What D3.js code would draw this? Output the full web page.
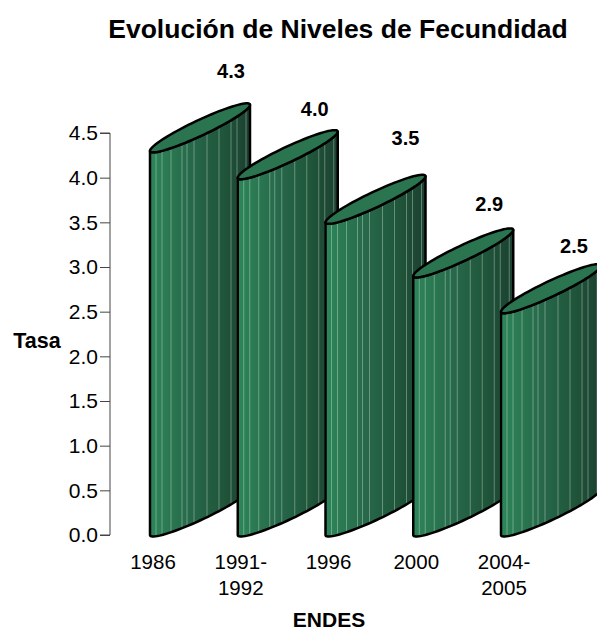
<!DOCTYPE html>
<html>
<head>
<meta charset="utf-8">
<script src="https://cdn.jsdelivr.net/npm/d3@7"></script>
<style>
body { margin: 0; background: #fff; }
text { font-family: "Liberation Sans", Arial, sans-serif; fill: #000; }
</style>
</head>
<body>
<svg id="chart" width="597" height="632"></svg>
<script>
var categories = [["1986"], ["1991-", "1992"], ["1996"], ["2000"], ["2004-", "2005"]];
var values = [4.3, 4.0, 3.5, 2.9, 2.5];
var tickValues = [0, 0.5, 1, 1.5, 2, 2.5, 3, 3.5, 4, 4.5];
// value labels float at uneven places in the original
var labelLift = [27, 16, 31, 19, 13];
var labelShift = [81, 77, 80, 76, 73];

var svg = d3.select("#chart");
var defs = svg.append("defs");

var barWidth = 100, skew = 46, bulge = 8.5;

var x = d3.scalePoint().domain(d3.range(categories.length)).range([150, 501]);
var y = d3.scaleLinear().domain([0, 4.5]).range([535, 133]);

var grad = defs.append("linearGradient").attr("id", "bodyFill");
grad.append("stop").attr("offset", "0%").attr("stop-color", "#2d8659");
grad.append("stop").attr("offset", "40%").attr("stop-color", "#27694a");
grad.append("stop").attr("offset", "75%").attr("stop-color", "#1f5439");
grad.append("stop").attr("offset", "100%").attr("stop-color", "#1b4030");

// point on the sheared ellipse of a bar; u = -1 is the left tip, u = 1 the right tip
function rimY(yLeft, u, side){
	return yLeft - skew/2 - u*skew/2 + side*bulge*Math.sqrt(1 - u*u);
}

var line = d3.line();
var samples = d3.range(0, 41).map(function(i){ return -Math.cos(Math.PI*i/40); });

function rim(x0, yLeft, side){
	return samples.map(function(u){
		return [x0 + barWidth/2 + u*barWidth/2, rimY(yLeft, u, side)];
	});
}

// stripe offsets bunch up towards the right edge, like facets of a cylinder
var stripes = [6, 12, 21, 32, 37, 44, 57, 69, 81, 87, 96];

// axis
var axis = d3.axisLeft(y).tickValues(tickValues).tickSize(10).tickPadding(2)
	.tickFormat(d3.format(".1f"));
var axisG = svg.append("g").attr("transform", "translate(110,0)").call(axis);
axisG.selectAll("path, line").attr("stroke", "#444").attr("stroke-width", 1);
axisG.select("path").attr("d", "M-10," + y(4.5) + "H0V" + y(0) + "H-10");
axisG.selectAll("text").style("font-size", "21px")
	.style("font-family", '"Liberation Sans", Arial, sans-serif').attr("fill", "#000");

// bars, left to right so that each overlaps the previous one
var bars = svg.selectAll("g.bar").data(values).enter().append("g").attr("class", "bar");

bars.each(function(d, i){
	var g = d3.select(this);
	var x0 = x(i), top = y(d), base = y(0);
	var front = rim(x0, top, 1), bottom = rim(x0, base, 1).reverse();

	g.append("path")
		.attr("d", line(front.concat(bottom)) + "Z")
		.attr("fill", "url(#bodyFill)");

	g.selectAll("line.stripe").data(stripes).enter().append("line")
		.attr("class", "stripe")
		.attr("x1", function(s){ return x0 + s; })
		.attr("x2", function(s){ return x0 + s; })
		.attr("y1", function(s){ return rimY(top, s/50 - 1, 1); })
		.attr("y2", function(s){ return rimY(base, s/50 - 1, 1); })
		.attr("stroke", "#fff").attr("stroke-opacity", 0.32).attr("stroke-width", 1);

	g.append("path")
		.attr("d", line(front.concat(bottom)) + "Z")
		.attr("fill", "none").attr("stroke", "#000").attr("stroke-width", 2.5)
		.attr("stroke-linejoin", "round");

	g.append("path")
		.attr("d", line(rim(x0, top, -1).concat(rim(x0, top, 1).reverse())) + "Z")
		.attr("fill", "#2a7550").attr("stroke", "#000").attr("stroke-width", 2.5);
});

// value labels
svg.selectAll("text.value").data(values).enter().append("text")
	.attr("class", "value")
	.attr("x", function(d, i){ return x(i) + labelShift[i]; })
	.attr("y", function(d, i){ return y(d) - skew - labelLift[i]; })
	.attr("text-anchor", "middle")
	.style("font-size", "20px").style("font-weight", "bold")
	.text(function(d){ return d.toFixed(1); });

// category labels
var cat = svg.selectAll("text.cat").data(categories).enter().append("text")
	.attr("class", "cat")
	.attr("text-anchor", "middle")
	.style("font-size", "20.5px");
cat.selectAll("tspan").data(function(d, i){
	return d.map(function(t){ return {t: t, i: i}; });
}).enter().append("tspan")
	.attr("x", function(d){ return x(d.i) + 3; })
	.attr("y", function(d, j){ return 569 + j*26; })
	.text(function(d){ return d.t; });

svg.append("text").attr("x", 338).attr("y", 38).attr("text-anchor", "middle")
	.style("font-size", "26.5px").style("font-weight", "bold")
	.text("Evolución de Niveles de Fecundidad");
svg.append("text").attr("x", 37).attr("y", 348).attr("text-anchor", "middle")
	.style("font-size", "21.5px").style("font-weight", "bold").text("Tasa");
svg.append("text").attr("x", 329).attr("y", 627).attr("text-anchor", "middle")
	.style("font-size", "21px").style("font-weight", "bold").text("ENDES");
</script>
</body>
</html>
